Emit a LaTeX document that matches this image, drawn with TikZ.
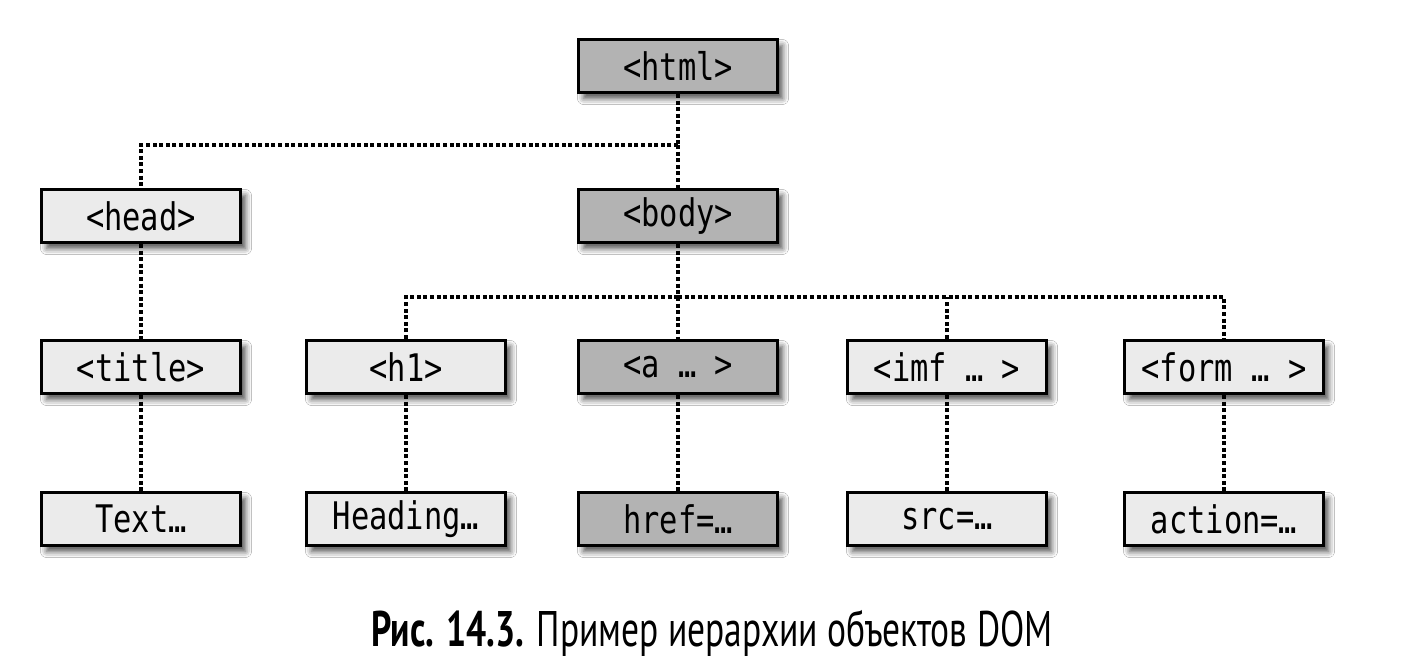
\documentclass[tikz,border=0pt]{standalone}
\usepackage{fontspec}
\setmonofont{DejaVu Sans Mono}[FakeStretch=0.8]
\newfontfamily\capfont{PT Sans}[FakeStretch=0.71]
\usetikzlibrary{shadows.blur}
\definecolor{boxlight}{HTML}{EBEBEB}
\definecolor{boxdark}{HTML}{B3B3B3}
\begin{document}
\begin{tikzpicture}[x=1pt,y=-1pt,
  box/.style={draw=black, line width=3pt, minimum width=199pt, minimum height=53pt,
    inner sep=0pt, font=\ttfamily\fontsize{38}{42}\selectfont,
    blur shadow={shadow xshift=5pt, shadow yshift=-6pt, shadow blur radius=6pt, shadow opacity=70}},
  lite/.style={box, fill=boxlight},
  dark/.style={box, fill=boxdark},
  link/.style={line width=4.6pt, dash pattern=on 4pt off 2.6pt}]
\fill[white] (0,0) rectangle (1424,670);
\useasboundingbox (0,0) rectangle (1424,670);

\coordinate (j1) at (678,145);
\coordinate (j2) at (678,297);

\node[dark] (html) at (678,66) {<html>};
\node[lite] (head) at (141,216) {<head>};
\node[dark] (body) at (678,216) {<body>};
\node[lite] (title) at (141,367) {<title>};
\node[lite] (h1) at (406,367) {<h1>};
\node[dark] (a) at (678,367) {<a … >};
\node[lite] (imf) at (947,367) {<imf … >};
\node[lite] (form) at (1224,367) {<form … >};
\node[lite] (text) at (141,519) {Text…};
\node[lite] (heading) at (406,519) {Heading…};
\node[dark] (href) at (678,519) {href=…};
\node[lite] (src) at (947,519) {src=…};
\node[lite] (action) at (1224,519) {action=…};

\draw[link] (html.south) -- (j1);
\draw[link] (j1) -| (head.north);
\draw[link] (j1) -- (body.north);
\draw[link] (body.south) -- (j2);
\draw[link] (j2) -- (a.north);
\draw[link] (h1.north) |- (j2);
\draw[link] (j2) -| (form.north);
\draw[link] (imf.north) -- (imf.north |- j2);
\draw[link] (head.south) -- (title.north);
\draw[link] (title.south) -- (text.north);
\draw[link] (h1.south) -- (heading.north);
\draw[link] (a.south) -- (href.north);
\draw[link] (imf.south) -- (src.north);
\draw[link] (form.south) -- (action.north);

\node[font=\capfont\fontsize{50}{54}\selectfont, inner sep=0pt] (cap) at (712,633)
  {\textbf{Рис. 14.3.} Пример иерархии объектов DOM};
\end{tikzpicture}
\end{document}
